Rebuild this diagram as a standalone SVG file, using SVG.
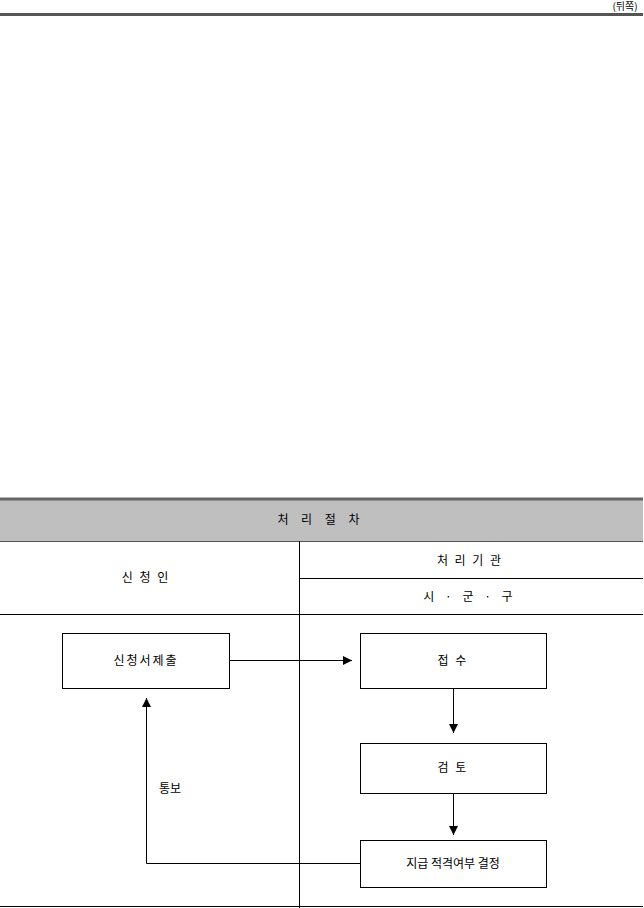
<svg xmlns="http://www.w3.org/2000/svg" width="644" height="908" viewBox="0 0 644 908">
<style>
text{font-family:"Noto Sans CJK KR","Liberation Sans",sans-serif;font-size:12px;fill:#000;text-anchor:middle}
.box{fill:#fff;stroke:#000;stroke-width:1}
.ln{stroke:#000;stroke-width:1;fill:none}
</style>
<defs>
<marker id="ah" markerWidth="10" markerHeight="10" refX="9" refY="4.5" orient="auto" markerUnits="userSpaceOnUse">
<path d="M0,0 L9,4.5 L0,9 Z" fill="#000"/>
</marker>
</defs>
<rect width="644" height="908" fill="#fff"/>
<text x="625" y="10" style="font-size:10px">(뒤쪽)</text>
<line x1="0" y1="14.5" x2="643" y2="14.5" stroke="#555" stroke-width="3"/>
<g id="table">
<rect x="0" y="500" width="643" height="41" fill="#bfbfbf"/>
<line x1="0" y1="499" x2="643" y2="499" stroke="#666" stroke-width="3"/>
<line x1="0" y1="541.5" x2="643" y2="541.5" stroke="#555" stroke-width="1"/>
<line class="ln" x1="299.5" y1="541" x2="299.5" y2="908"/>
<line class="ln" x1="299" y1="578.5" x2="643" y2="578.5"/>
<line class="ln" x1="0" y1="614.5" x2="643" y2="614.5"/>
<line class="ln" x1="0" y1="906.5" x2="643" y2="906.5"/>
<text x="321" y="524" letter-spacing="5">처 리 절 차</text>
<text x="146" y="582" letter-spacing="2">신 청 인</text>
<text x="470" y="565" letter-spacing="2">처 리 기 관</text>
<text x="470" y="601" letter-spacing="4">시 · 군 · 구</text>
</g>
<g id="n1"><rect class="box" x="62.5" y="633.5" width="167" height="55"/><text x="146" y="665" letter-spacing="2">신청서제출</text></g>
<g id="n2"><rect class="box" x="360.5" y="633.5" width="186" height="55"/><text x="453" y="665" letter-spacing="2">접 수</text></g>
<g id="n3"><rect class="box" x="360.5" y="743.5" width="186" height="50"/><text x="453" y="772" letter-spacing="2">검 토</text></g>
<g id="n4"><rect class="box" x="360.5" y="840.5" width="186" height="47"/><text x="453" y="868">지급 적격여부 결정</text></g>
<g id="connectors">
<line class="ln" x1="229" y1="660.5" x2="352" y2="660.5" marker-end="url(#ah)"/>
<line class="ln" x1="453.5" y1="688" x2="453.5" y2="733" marker-end="url(#ah)"/>
<line class="ln" x1="453.5" y1="793" x2="453.5" y2="835" marker-end="url(#ah)"/>
<polyline class="ln" points="360,863.5 146.5,863.5 146.5,698" marker-end="url(#ah)"/>
<text x="170" y="793">통보</text>
</g>
</svg>
